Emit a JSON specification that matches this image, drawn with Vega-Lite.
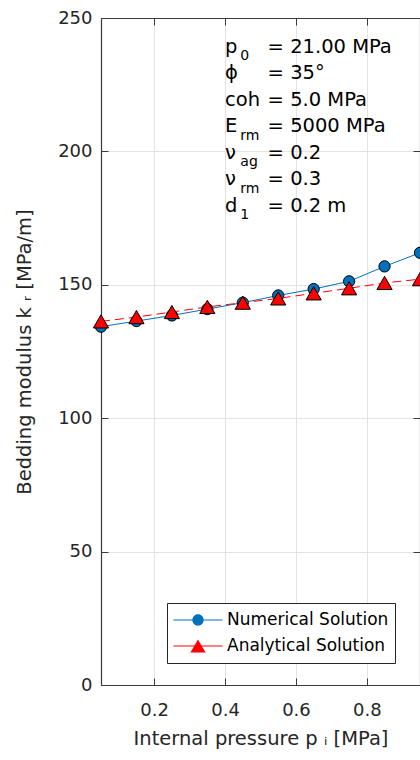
{
  "$schema": "https://vega.github.io/schema/vega-lite/v6.json",
  "width": 319,
  "height": 667,
  "autosize": {"type": "none"},
  "padding": {"left": 101, "top": 18, "right": 0, "bottom": 75},
  "background": "white",
  "config": {
    "view": {"stroke": null},
    "font": "DejaVu Sans",
    "axis": {
      "domainColor": "#3a3a3a",
      "domainWidth": 1.2,
      "tickColor": "#3a3a3a",
      "tickWidth": 1,
      "gridColor": "#e3e3e3",
      "gridWidth": 1,
      "labelFont": "DejaVu Sans",
      "labelFontSize": 18,
      "labelColor": "#262626",
      "titleFont": "DejaVu Sans",
      "titleFontSize": 19.5,
      "titleFontWeight": "normal",
      "titleColor": "#262626"
    }
  },
  "data": {
    "values": [
      {"pressure": 0.05, "modulus": 134.3, "solution": "Numerical Solution"},
      {"pressure": 0.15, "modulus": 136.4, "solution": "Numerical Solution"},
      {"pressure": 0.25, "modulus": 138.5, "solution": "Numerical Solution"},
      {"pressure": 0.35, "modulus": 140.9, "solution": "Numerical Solution"},
      {"pressure": 0.45, "modulus": 143.3, "solution": "Numerical Solution"},
      {"pressure": 0.55, "modulus": 146.0, "solution": "Numerical Solution"},
      {"pressure": 0.65, "modulus": 148.4, "solution": "Numerical Solution"},
      {"pressure": 0.75, "modulus": 151.3, "solution": "Numerical Solution"},
      {"pressure": 0.85, "modulus": 156.9, "solution": "Numerical Solution"},
      {"pressure": 0.95, "modulus": 162.0, "solution": "Numerical Solution"},
      {"pressure": 0.05, "modulus": 136.3, "solution": "Analytical Solution"},
      {"pressure": 0.15, "modulus": 137.9, "solution": "Analytical Solution"},
      {"pressure": 0.25, "modulus": 139.8, "solution": "Analytical Solution"},
      {"pressure": 0.35, "modulus": 141.7, "solution": "Analytical Solution"},
      {"pressure": 0.45, "modulus": 143.3, "solution": "Analytical Solution"},
      {"pressure": 0.55, "modulus": 144.9, "solution": "Analytical Solution"},
      {"pressure": 0.65, "modulus": 146.8, "solution": "Analytical Solution"},
      {"pressure": 0.75, "modulus": 148.7, "solution": "Analytical Solution"},
      {"pressure": 0.85, "modulus": 150.7, "solution": "Analytical Solution"},
      {"pressure": 0.95, "modulus": 152.1, "solution": "Analytical Solution"}
    ]
  },
  "layer": [
    {
      "transform": [{"filter": "datum.solution === 'Numerical Solution'"}],
      "mark": {"type": "line", "strokeWidth": 1},
      "encoding": {
        "x": {
          "field": "pressure", "type": "quantitative",
          "scale": {"domain": [0.05, 0.95], "nice": false, "zero": false},
          "axis": {
            "orient": "bottom", "values": [0.2, 0.4, 0.6, 0.8], "format": ".1f",
            "title": "Internal pressure p ᵢ [MPa]", "grid": true,
            "tickSize": -7, "labelPadding": 23, "titlePadding": 10
          }
        },
        "y": {
          "field": "modulus", "type": "quantitative",
          "scale": {"domain": [0, 250], "nice": false, "zero": true},
          "axis": {
            "orient": "left", "values": [0, 50, 100, 150, 200, 250],
            "title": "Bedding modulus k ᵣ [MPa/m]", "grid": true,
            "tickSize": -7, "labelPadding": 16, "titlePadding": 23
          }
        },
        "stroke": {
          "field": "solution", "type": "nominal",
          "scale": {"domain": ["Numerical Solution", "Analytical Solution"], "range": ["#0072BD", "#FF0000"]},
          "legend": {
            "title": null, "orient": "none", "legendX": 66, "legendY": 585,
            "symbolType": "stroke", "symbolSize": 2401, "symbolStrokeWidth": 1,
            "clipHeight": 22, "rowPadding": 4, "padding": 6, "labelOffset": 4, "symbolOffset": 0,
            "labelFont": "DejaVu Sans", "labelFontSize": 17, "labelColor": "#000000", "labelLimit": 0,
            "strokeColor": "#262626", "fillColor": "white"
          }
        }
      }
    },
    {
      "transform": [{"filter": "datum.solution === 'Numerical Solution'"}],
      "mark": {"type": "point", "filled": true, "size": 2401, "stroke": "black", "strokeWidth": 1, "opacity": 1},
      "encoding": {
        "x": {"field": "pressure", "type": "quantitative", "axis": null},
        "y": {"field": "modulus", "type": "quantitative", "axis": null},
        "fill": {
          "field": "solution", "type": "nominal", "sort": "descending",
          "scale": {"range": ["#0072BD", "#FF0000"]},
          "legend": {
            "title": null, "orient": "none", "legendX": 66, "legendY": 585,
            "symbolSize": 2401, "symbolStrokeWidth": 1, "symbolStrokeColor": "black",
            "clipHeight": 22, "rowPadding": 4, "padding": 6, "labelOffset": 4, "symbolOffset": 0,
            "labelFont": "DejaVu Sans", "labelFontSize": 17, "labelOpacity": 0, "labelLimit": 0,
            "encode": {"symbols": {"stroke": {"value": "black"}, "strokeWidth": {"value": 1}}}
          }
        },
        "shape": {
          "field": "solution", "type": "nominal", "sort": "descending",
          "scale": {"range": ["M-0.23,0A0.23,0.23,0,1,1,0.23,0A0.23,0.23,0,1,1,-0.23,0Z", "M0,-0.27L0.31,0.27L-0.31,0.27Z"]},
          "legend": {
            "title": null, "orient": "none", "legendX": 66, "legendY": 585,
            "symbolSize": 2401, "symbolStrokeWidth": 1, "symbolStrokeColor": "black",
            "clipHeight": 22, "rowPadding": 4, "padding": 6, "labelOffset": 4, "symbolOffset": 0,
            "labelFont": "DejaVu Sans", "labelFontSize": 17, "labelOpacity": 0, "labelLimit": 0,
            "encode": {"symbols": {"stroke": {"value": "black"}, "strokeWidth": {"value": 1}}}
          }
        }
      }
    },
    {
      "transform": [{"filter": "datum.solution === 'Analytical Solution'"}],
      "mark": {"type": "line", "strokeWidth": 1, "strokeDash": [9, 5]},
      "encoding": {
        "x": {
          "field": "pressure", "type": "quantitative",
          "axis": {"orient": "top", "values": [0.2, 0.4, 0.6, 0.8], "labels": false, "title": null, "grid": false, "tickSize": -7}
        },
        "y": {
          "field": "modulus", "type": "quantitative",
          "axis": {"orient": "right", "values": [0, 50, 100, 150, 200, 250], "labels": false, "title": null, "grid": false, "tickSize": -7}
        },
        "stroke": {"field": "solution", "type": "nominal"}
      }
    },
    {
      "transform": [{"filter": "datum.solution === 'Analytical Solution'"}],
      "mark": {"type": "point", "filled": true, "size": 2401, "stroke": "black", "strokeWidth": 1, "opacity": 1},
      "encoding": {
        "x": {"field": "pressure", "type": "quantitative", "axis": null},
        "y": {"field": "modulus", "type": "quantitative", "axis": null},
        "fill": {"field": "solution", "type": "nominal", "sort": "descending"},
        "shape": {"field": "solution", "type": "nominal", "sort": "descending"}
      }
    },
    {
      "data": {"values": [{}]},
      "mark": {"type": "text", "text": ["p", "ϕ", "coh", "E", "ν", "ν", "d"], "align": "left", "baseline": "alphabetic", "font": "DejaVu Sans", "fontSize": 19.5, "lineHeight": 26.5, "color": "#000000"},
      "encoding": {
        "x": {"datum": 0.4, "type": "quantitative", "axis": null},
        "y": {"datum": 237, "type": "quantitative", "axis": null}
      }
    },
    {
      "data": {"values": [{}]},
      "mark": {"type": "text", "text": "0", "align": "left", "baseline": "alphabetic", "font": "DejaVu Sans", "fontSize": 14, "dy": 7.5, "color": "#000000"},
      "encoding": {
        "x": {"datum": 0.443, "type": "quantitative", "axis": null},
        "y": {"datum": 237, "type": "quantitative", "axis": null}
      }
    },
    {
      "data": {"values": [{}]},
      "mark": {"type": "text", "text": ["rm", "ag", "rm", "1"], "align": "left", "baseline": "alphabetic", "font": "DejaVu Sans", "fontSize": 14, "lineHeight": 26.5, "dy": 7.5, "color": "#000000"},
      "encoding": {
        "x": {"datum": 0.443, "type": "quantitative", "axis": null},
        "y": {"datum": 207.2, "type": "quantitative", "axis": null}
      }
    },
    {
      "data": {"values": [{}]},
      "mark": {"type": "text", "text": ["= 21.00 MPa", "= 35°", "= 5.0 MPa", "= 5000 MPa", "= 0.2", "= 0.3", "= 0.2 m"], "align": "left", "baseline": "alphabetic", "font": "DejaVu Sans", "fontSize": 19.5, "lineHeight": 26.5, "color": "#000000"},
      "encoding": {
        "x": {"datum": 0.52, "type": "quantitative", "axis": null},
        "y": {"datum": 237, "type": "quantitative", "axis": null}
      }
    }
  ],
  "resolve": {"axis": {"x": "independent", "y": "independent"}}
}
